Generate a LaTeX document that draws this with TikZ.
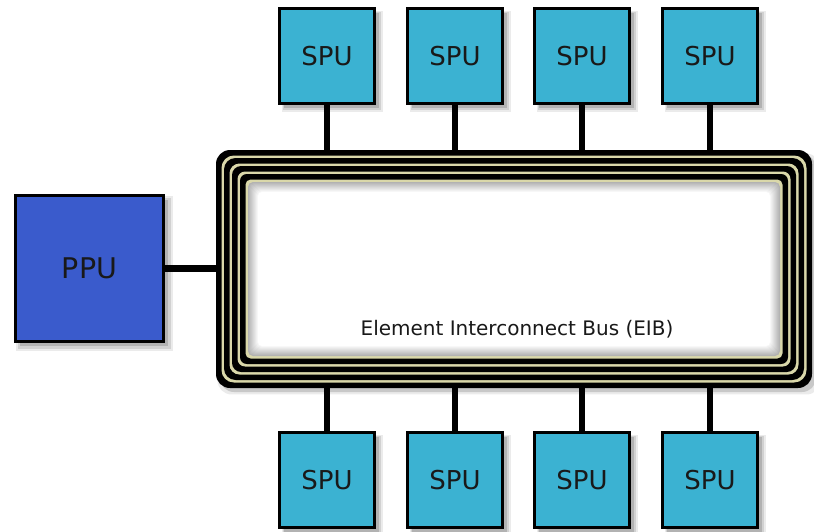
\documentclass[tikz,border=0pt]{standalone}
\usepackage{fontspec}
\setmainfont{DejaVu Sans}
\usetikzlibrary{shadows}
\definecolor{spucol}{RGB}{59,178,210}
\definecolor{ppucol}{RGB}{58,91,204}
\definecolor{beige}{RGB}{218,216,170}
\definecolor{txt}{RGB}{25,25,25}
\begin{document}
\begin{tikzpicture}[x=1pt,y=-1pt,
  shad/.style={
    drop shadow={opacity=0.08,shadow xshift=5pt,shadow yshift=-5pt,shadow scale=1.06,fill=black},
    drop shadow={opacity=0.11,shadow xshift=5pt,shadow yshift=-5pt,shadow scale=1.03,fill=black},
    drop shadow={opacity=0.15,shadow xshift=4pt,shadow yshift=-4pt,shadow scale=1.0,fill=black}},
  busshad/.style={
    drop shadow={opacity=0.08,shadow xshift=5pt,shadow yshift=-5pt,shadow scale=1.012,fill=black},
    drop shadow={opacity=0.15,shadow xshift=4pt,shadow yshift=-4pt,fill=black}},
  unitbox/.style={draw=black,line width=3pt,inner sep=0pt,shad,text=txt},
  spubox/.style={unitbox,fill=spucol,minimum width=95pt,minimum height=95pt,
    font=\fontsize{26}{30}\selectfont},
  ppubox/.style={unitbox,fill=ppucol,minimum width=148pt,minimum height=146pt,
    font=\fontsize{28.5}{32}\selectfont},
  wire/.style={line width=6.5pt,black}]
\useasboundingbox (0,0) rectangle (814,531);
% invisible bus node for anchors
\node[minimum width=596pt,minimum height=238pt,inner sep=0pt] (bus) at (514,269) {};
% boxes
\foreach \n/\x in {t1/327,t2/455,t3/582,t4/710}
  \node[spubox] (\n) at (\x,56) {SPU};
\foreach \n/\x in {b1/327,b2/455,b3/582,b4/710}
  \node[spubox] (\n) at (\x,480) {SPU};
\node[ppubox] (ppu) at (89.5,268.5) {PPU};
% connectors
\foreach \n in {t1,t2,t3,t4}
  \draw[wire] (\n.south) -- (\n.south |- bus.north);
\foreach \n in {b1,b2,b3,b4}
  \draw[wire] (\n.north) -- (\n.north |- bus.south);
\draw[wire] (ppu.east) -- (ppu.east -| bus.west);
% bus rings
\fill[black,rounded corners=14pt,busshad] (216,150) rectangle (812,388);
\foreach \i/\c in {5.5/beige,8/black,13.5/beige,16/black,21.5/beige,24/black,29.5/beige}{
  \pgfmathsetmacro{\r}{14-0.3*\i}
  \fill[\c,rounded corners=\r pt] (216+\i,150+\i) rectangle (812-\i,388-\i);
}
% inner soft shadow
\foreach \k in {0,...,9}{
  \pgfmathsetmacro{\g}{30-3*\k}
  \fill[black!\g!white,rounded corners=5pt] (248+\k,182+\k) rectangle (780-\k,356-\k);
}
\fill[white,rounded corners=4pt] (258,192) rectangle (770,346);
\node[anchor=base,text=txt,font=\fontsize{20}{24}\selectfont] (eib) at (517,335) {Element Interconnect Bus (EIB)};
\end{tikzpicture}
\end{document}
